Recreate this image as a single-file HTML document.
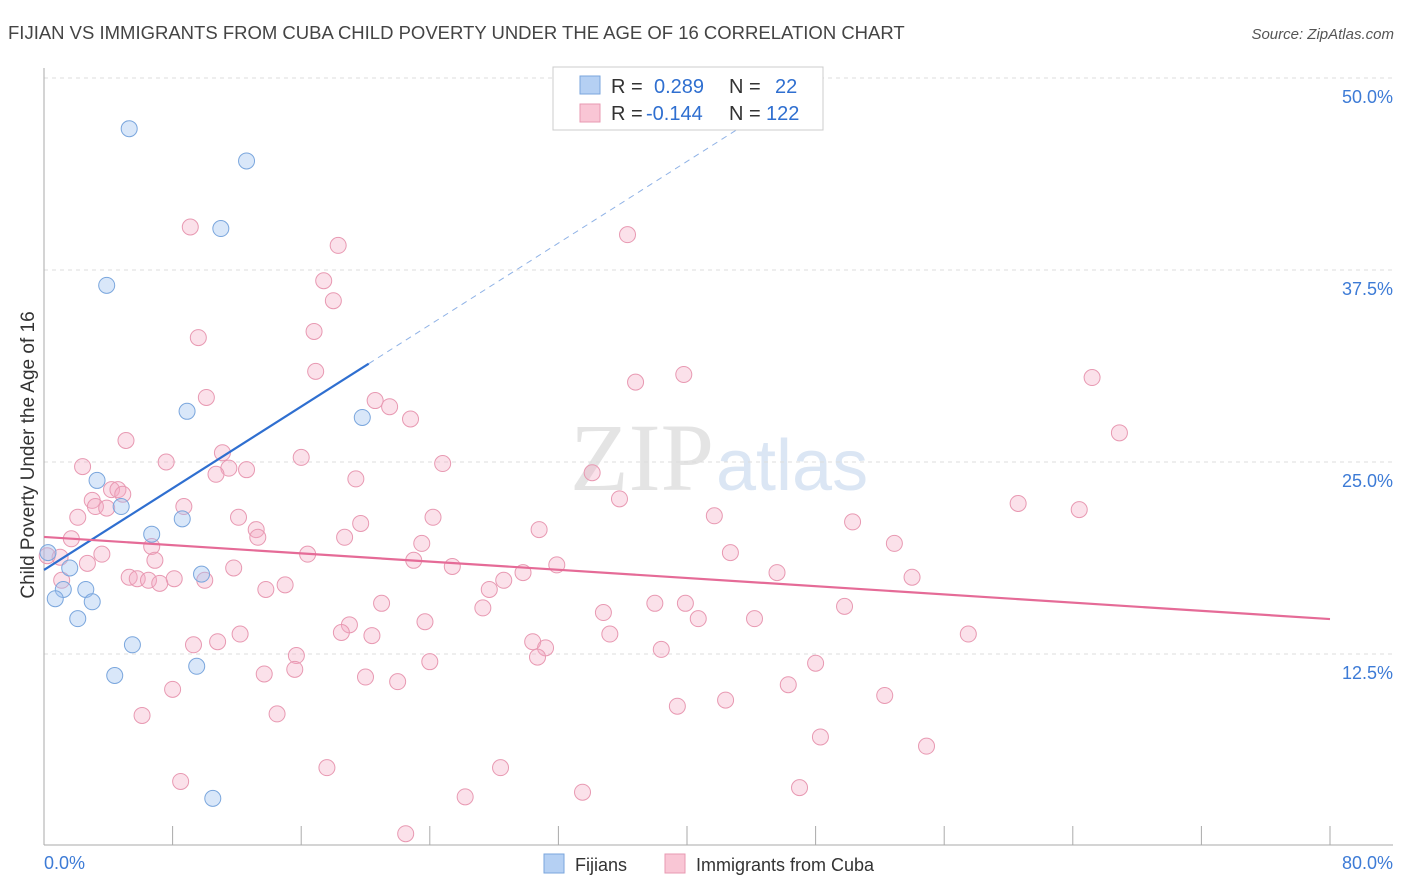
<!DOCTYPE html>
<html><head><meta charset="utf-8">
<style>
body{margin:0;background:#fff;font-family:"Liberation Sans",sans-serif;}
#wrap{position:relative;width:1406px;height:892px;overflow:hidden;}
</style></head>
<body>
<div id="wrap">
<svg id="chart" width="1406" height="892" xmlns="http://www.w3.org/2000/svg">
<text x="8" y="39" font-size="18.5" fill="#444">FIJIAN VS IMMIGRANTS FROM CUBA CHILD POVERTY UNDER THE AGE OF 16 CORRELATION CHART</text>
<text x="1394" y="39" font-size="15" fill="#555" font-style="italic" text-anchor="end">Source: ZipAtlas.com</text>
<text x="714" y="490" font-size="96" fill="#e4e4e4" text-anchor="end" font-family="Liberation Serif,serif">ZIP</text>
<text x="716" y="490" font-size="72" fill="#dbe6f4">atlas</text>
<g id="grid"></g>
<g id="axes"></g>
<g id="marks"></g>
<text transform="translate(34,455) rotate(-90)" font-size="19" fill="#333" text-anchor="middle">Child Poverty Under the Age of 16</text>
<g>
<rect x="553" y="67" width="270" height="63" fill="#fff" stroke="#ccc"/>
<rect x="580" y="76" width="20" height="18" fill="#b5d0f3" stroke="#7aa6dd"/>
<rect x="580" y="104" width="20" height="18" fill="#f9c6d5" stroke="#e899b2"/>
<text x="611" y="93" font-size="20" fill="#333">R = </text>
<text x="654" y="93" font-size="20" fill="#2f6fd0">0.289</text>
<text x="729" y="93" font-size="20" fill="#333">N = </text>
<text x="775" y="93" font-size="20" fill="#2f6fd0">22</text>
<text x="611" y="120" font-size="20" fill="#333">R = </text>
<text x="646" y="120" font-size="20" fill="#2f6fd0">-0.144</text>
<text x="729" y="120" font-size="20" fill="#333">N = </text>
<text x="766" y="120" font-size="20" fill="#2f6fd0">122</text>
</g>
<g>
<rect x="544" y="854" width="20" height="19" fill="#b5d0f3" stroke="#7aa6dd"/>
<text x="575" y="871" font-size="18" fill="#333">Fijians</text>
<rect x="665" y="854" width="20" height="19" fill="#f9c6d5" stroke="#e899b2"/>
<text x="696" y="871" font-size="18" fill="#333">Immigrants from Cuba</text>
</g>
</svg>
</div>
<script>
const yTicks=[12.5,25,37.5,50];
const yTickLabels=["12.5%","25.0%","37.5%","50.0%"];
const xTickVals=[0,8,16,24,32,40,48,56,64,72,80];
const xEndLabels=["0.0%","80.0%"];
const fijiX=[5.3,12.6,11.0,3.9,8.9,19.8,3.3,4.8,8.6,6.7,0.25,1.6,9.8,1.2,2.6,0.7,3.0,2.1,5.5,9.5,4.4,10.5];
const fijiY=[46.7,44.6,40.2,36.5,28.3,27.9,23.8,22.1,21.3,20.3,19.1,18.1,17.7,16.7,16.7,16.1,15.9,14.8,13.1,11.7,11.1,3.1];
const cubaX=[9.1,18.3,36.3,17.4,18.0,9.6,16.8,39.8,36.8,16.9,65.2,10.1,20.6,21.5,22.8,66.9,5.1,11.1,2.4,7.6,16.0,24.8,11.5,12.6,10.7,19.4,34.1,4.2,4.6,4.9,3.0,8.7,3.2,3.9,60.6,64.4,35.8,41.7,24.2,12.1,2.1,19.7,50.3,30.8,13.2,13.3,18.7,1.7,6.7,52.9,23.5,42.7,16.4,3.6,1.0,0.2,23.0,6.9,31.9,25.4,11.8,2.7,29.8,45.6,5.3,5.8,6.5,28.6,54.0,10.0,8.1,7.2,27.7,15.0,13.8,1.1,21.0,38.0,39.9,27.3,34.8,49.8,40.7,44.2,23.7,19.0,18.5,20.4,35.2,57.5,12.2,30.4,31.2,9.3,10.8,38.4,15.7,30.7,24.0,15.6,48.0,13.7,20.0,22.0,8.0,46.3,52.3,42.4,39.4,14.5,6.1,48.3,54.9,17.6,28.4,8.5,33.5,26.2,47.0,22.5];
const cubaY=[40.3,39.1,39.8,36.8,35.5,33.1,33.5,30.7,30.2,30.9,30.5,29.2,29.0,28.6,27.8,26.9,26.4,25.6,24.7,25.0,25.3,24.9,24.6,24.5,24.2,23.9,24.3,23.2,23.2,22.9,22.5,22.1,22.1,22.0,22.3,21.9,22.6,21.5,21.4,21.4,21.4,21.0,21.1,20.6,20.6,20.1,20.1,20.0,19.5,19.7,19.7,19.1,19.0,19.0,18.8,18.9,18.6,18.6,18.3,18.2,18.1,18.4,17.8,17.8,17.5,17.4,17.3,17.3,17.5,17.3,17.4,17.1,16.7,17.0,16.7,17.3,15.8,15.8,15.8,15.5,15.2,15.6,14.8,14.8,14.6,14.4,13.9,13.7,13.8,13.8,13.8,13.3,12.9,13.1,13.3,12.8,12.4,12.3,12.0,11.5,11.9,11.2,11.0,10.7,10.2,10.5,9.8,9.5,9.1,8.6,8.5,7.1,6.5,5.1,5.1,4.2,3.5,3.2,3.8,0.8];
const fijiTrend=[17.97,0.665];
const cubaTrend=[20.12,-0.0668];

const NS="http://www.w3.org/2000/svg";
const X=v=>44+v*16.075;
const Y=v=>846-v*15.36;
function mk(tag,attrs,parent){const e=document.createElementNS(NS,tag);for(const k in attrs)e.setAttribute(k,attrs[k]);document.getElementById(parent).appendChild(e);return e;}

yTicks.forEach((t,i)=>{
  const g=mk('line',{x1:44,x2:1393,y1:Y(t),y2:Y(t),stroke:'#ddd','stroke-dasharray':'4,4'},'grid');
  
  
  const tx=mk('text',{x:1393,y:Y(t)+25,'font-size':18,fill:'#3d7bd6','text-anchor':'end'},'axes');
  tx.textContent=yTickLabels[i];
  
  
});
const ax=mk('line',{x1:44,x2:1393,y1:845,y2:845,stroke:'#aaa'},'axes');


const ay=mk('line',{x1:44,x2:44,y1:68,y2:845,stroke:'#aaa'},'axes');


xTickVals.forEach(v=>{
  const t=mk('line',{x1:X(v),x2:X(v),y1:826,y2:845,stroke:'#aaa'},'axes');
  
  
});
const xl0=mk('text',{x:44,y:869,'font-size':18,fill:'#3d7bd6'},'axes');
xl0.textContent=xEndLabels[0];


const xl1=mk('text',{x:1393,y:869,'font-size':18,fill:'#3d7bd6','text-anchor':'end'},'axes');
xl1.textContent=xEndLabels[1];



cubaX.forEach((x,i)=>{
  const c=mk('circle',{cx:X(x),cy:Y(cubaY[i]),r:8,fill:'rgba(244,170,195,0.35)',stroke:'#e899b2','stroke-width':1},'marks');
  
  
});
fijiX.forEach((x,i)=>{
  const c=mk('circle',{cx:X(x),cy:Y(fijiY[i]),r:8,fill:'rgba(160,195,240,0.4)',stroke:'#7aa6dd','stroke-width':1},'marks');
  
  
});
const fx1=20.2,fx2=44.5;
const fl=mk('line',{x1:X(0),y1:Y(fijiTrend[0]),x2:X(fx1),y2:Y(fijiTrend[0]+fijiTrend[1]*fx1),stroke:'#2f6fd0','stroke-width':2.2},'marks');


const fd=mk('line',{x1:X(fx1),y1:Y(fijiTrend[0]+fijiTrend[1]*fx1),x2:X(fx2),y2:Y(fijiTrend[0]+fijiTrend[1]*fx2),stroke:'#8fb2e6','stroke-width':1,'stroke-dasharray':'6,5'},'marks');


const cl=mk('line',{x1:X(0),y1:Y(cubaTrend[0]),x2:X(80),y2:Y(cubaTrend[0]+cubaTrend[1]*80),stroke:'#e56b97','stroke-width':2.2},'marks');


</script>
</body></html>
